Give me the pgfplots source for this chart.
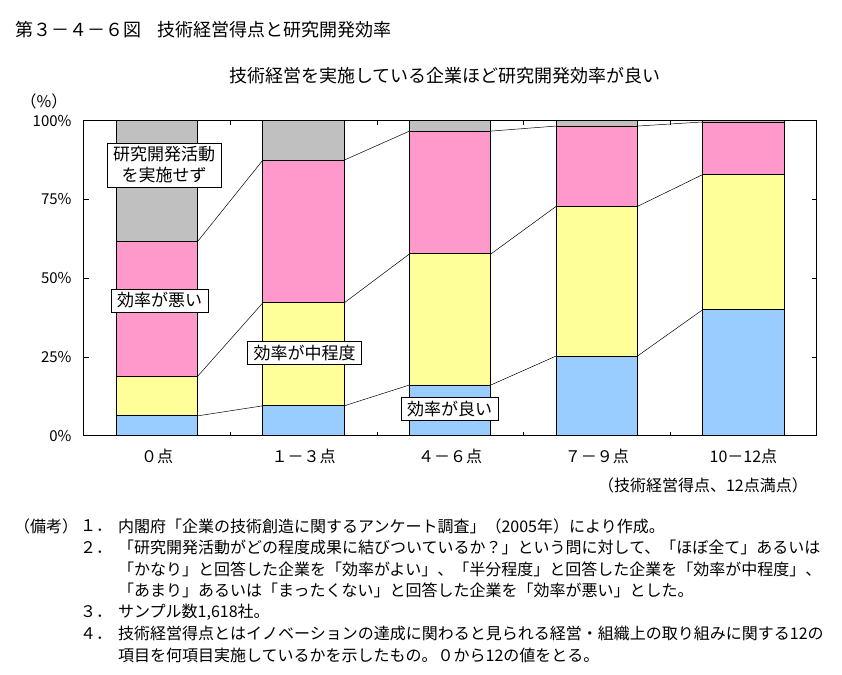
\documentclass[border=0pt]{standalone}
\usepackage{fontspec}
\setmainfont{Noto Sans CJK JP}
\usepackage{pgfplots}
\pgfplotsset{compat=1.18}
\definecolor{cblue}{RGB}{153,204,255}
\definecolor{cyellow}{RGB}{255,255,153}
\definecolor{cpink}{RGB}{255,153,204}
\definecolor{cgray}{RGB}{192,192,192}
\newcommand{\fs}[1]{\fontsize{#1}{#1}\selectfont}
\begin{document}
\begin{tikzpicture}
\path[use as bounding box] (0pt,0pt) rectangle (842pt,-674pt);
% titles
\node[anchor=west, inner sep=0pt, font=\fs{18}] at (15pt,-30pt) {第３－４－６図\hspace{16pt}技術経営得点と研究開発効率};
\node[anchor=center, inner sep=0pt, font=\fs{18}] at (445pt,-76pt) {技術経営を実施している企業ほど研究開発効率が良い};
\node[anchor=center, inner sep=0pt, font=\fs{16}] at (44pt,-101pt) {（\%）};
% main bars
\begin{axis}[
  at={(83.7pt,-435.7pt)}, anchor=south west, scale only axis,
  width=733pt, height=315pt,
  xmin=-0.5, xmax=4.5, ymin=0, ymax=100,
  ybar stacked, bar width=81.4pt,
  axis line style={line width=1.4pt},
  /pgf/number format/assume math mode=true,
  xtick={0,1,2,3,4},
  xticklabels={０点,１－３点,４－６点,７－９点,10－12点},
  major x tick style={draw=none},
  minor xtick={0.5,1.5,2.5,3.5},
  minor tick length=4pt,
  ytick={0,25,50,75,100},
  yticklabel={\pgfmathprintnumber{\tick}\%},
  major tick length=5pt,
  tick style={black, line width=0.6pt},
  tick align=inside,
  xticklabel style={font=\fs{16}, inner sep=0pt, anchor=center, yshift=-21pt},
  yticklabel style={font=\fs{15}, inner sep=0pt, anchor=east, xshift=-12pt},
]
\addplot[fill=cblue, draw=black, line width=0.9pt] coordinates {(0,6.3) (1,9.5) (2,16.1) (3,25.3) (4,40.0)};
\addplot[fill=cyellow, draw=black, line width=0.9pt] coordinates {(0,12.6) (1,32.7) (2,41.6) (3,47.5) (4,42.9)};
\addplot[fill=cpink, draw=black, line width=0.9pt] coordinates {(0,42.8) (1,45.3) (2,39.0) (3,25.5) (4,16.7)};
\addplot[fill=cgray, draw=black, line width=0.9pt] coordinates {(0,38.3) (1,12.5) (2,3.3) (3,1.7) (4,0.4)};
\end{axis}
% connector lines
\begin{axis}[
  at={(83.7pt,-435.7pt)}, anchor=south west, scale only axis,
  width=733pt, height=315pt,
  xmin=-0.5, xmax=4.5, ymin=0, ymax=100,
  hide axis, unbounded coords=jump, clip=false,
]
\addplot[black, line width=0.5pt, mark=none] coordinates {(0.2776,6.3) (0.7224,9.5) (1,nan) (1.2776,9.5) (1.7224,16.1) (2,nan) (2.2776,16.1) (2.7224,25.3) (3,nan) (3.2776,25.3) (3.7224,40.0)};
\addplot[black, line width=0.5pt, mark=none] coordinates {(0.2776,18.9) (0.7224,42.2) (1,nan) (1.2776,42.2) (1.7224,57.7) (2,nan) (2.2776,57.7) (2.7224,72.8) (3,nan) (3.2776,72.8) (3.7224,82.9)};
\addplot[black, line width=0.5pt, mark=none] coordinates {(0.2776,61.7) (0.7224,87.5) (1,nan) (1.2776,87.5) (1.7224,96.7) (2,nan) (2.2776,96.7) (2.7224,98.3) (3,nan) (3.2776,98.3) (3.7224,99.6)};
\end{axis}
% boxed labels
\tikzset{lbl/.style={draw=black, fill=white, line width=0.6pt, inner xsep=6pt, inner ysep=3.5pt, font=\fs{17}, align=center}}
\node[lbl, font=\fontsize{17}{21}\selectfont] at (164pt,-165pt) {研究開発活動\\を実施せず};
\node[lbl] at (159.5pt,-300.5pt) {効率が悪い};
\node[lbl] at (304.5pt,-353pt) {効率が中程度};
\node[lbl] at (449.5pt,-409pt) {効率が良い};
% x axis caption
\node[anchor=east, inner sep=0pt, font=\fs{16}] at (808pt,-485pt) {（技術経営得点、12点満点）};
% notes
\begin{scope}[every node/.style={anchor=west, inner sep=0pt, font=\fs{16}}]
\node at (14pt,-526pt) {（備考）};
\node at (80pt,-526pt) {１．};
\node at (118pt,-526pt) {内閣府「企業の技術創造に関するアンケート調査」（2005年）により作成。};
\node at (80pt,-547.5pt) {２．};
\node at (118pt,-547.5pt) {「研究開発活動がどの程度成果に結びついているか？」という問に対して、「ほぼ全て」あるいは};
\node at (118pt,-569pt) {「かなり」と回答した企業を「効率がよい」、「半分程度」と回答した企業を「効率が中程度」、};
\node at (118pt,-590.5pt) {「あまり」あるいは「まったくない」と回答した企業を「効率が悪い」とした。};
\node at (80pt,-612pt) {３．};
\node at (118pt,-612pt) {サンプル数1,618社。};
\node at (80pt,-633.5pt) {４．};
\node at (118pt,-633.5pt) {技術経営得点とはイノベーションの達成に関わると見られる経営・組織上の取り組みに関する12の};
\node at (118pt,-655pt) {項目を何項目実施しているかを示したもの。０から12の値をとる。};
\end{scope}
\end{tikzpicture}
\end{document}
